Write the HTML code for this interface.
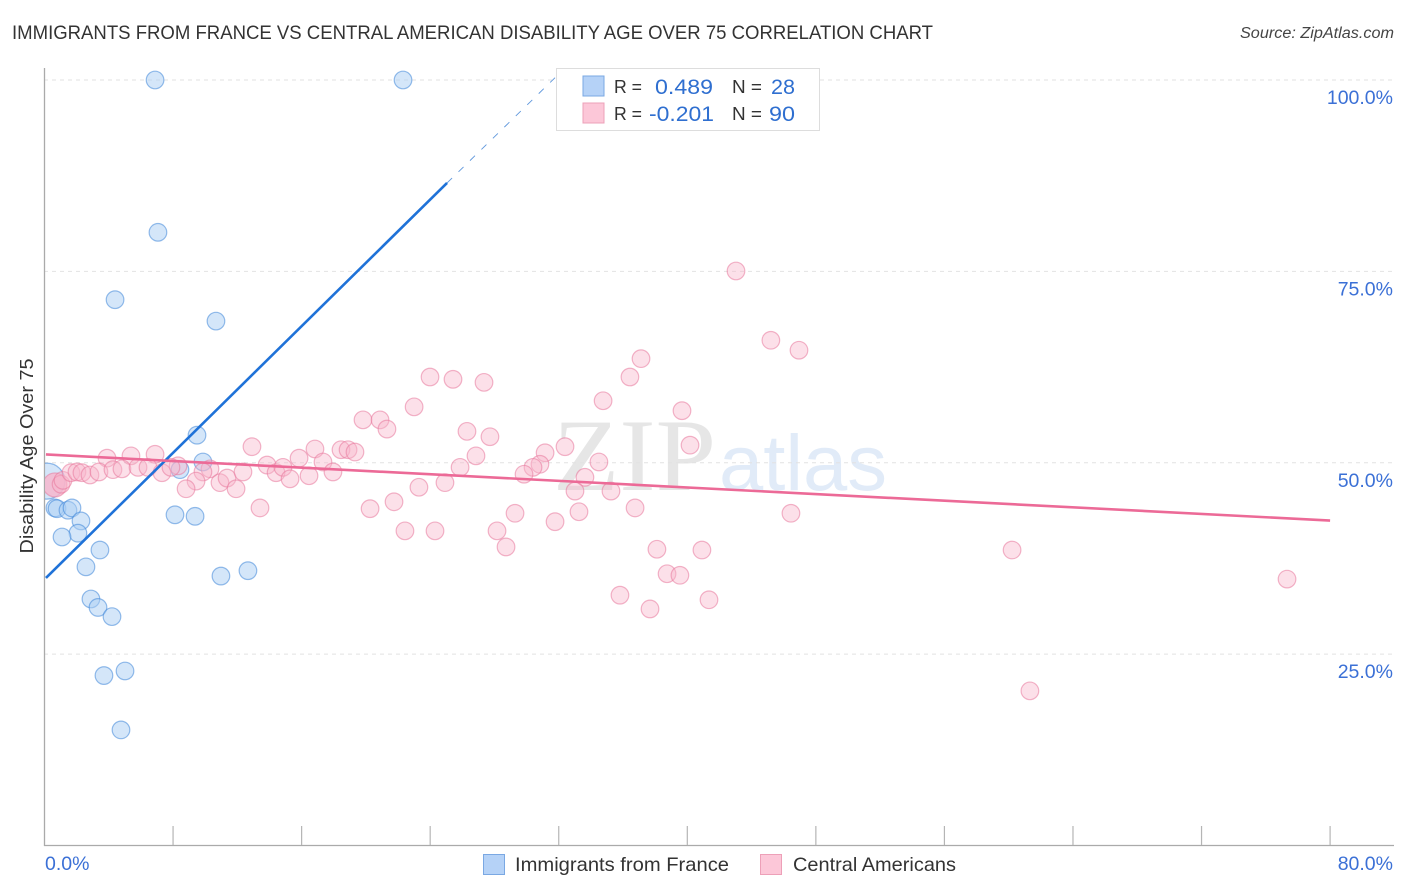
<!DOCTYPE html>
<html lang="en">
<head>
<meta charset="utf-8">
<title>Immigrants from France vs Central American Disability Age Over 75 Correlation Chart</title>
<style>
html,body{margin:0;padding:0;background:#fff;width:1406px;height:892px;overflow:hidden}
svg{display:block;font-family:"Liberation Sans",sans-serif}
</style>
</head>
<body>
<svg id="chart" xmlns="http://www.w3.org/2000/svg" width="1406" height="892" viewBox="0 0 1406 892">
  <defs>
    <clipPath id="plot-clip"><rect x="45" y="60" width="1349" height="785"/></clipPath>
  </defs>
  <rect x="0" y="0" width="1406" height="892" fill="#ffffff"/>
  <text x="12" y="39" font-size="19.5" fill="#333333" textLength="921" lengthAdjust="spacingAndGlyphs">IMMIGRANTS FROM FRANCE VS CENTRAL AMERICAN DISABILITY AGE OVER 75 CORRELATION CHART</text>
  <text x="1394" y="38" font-size="15.5" font-style="italic" fill="#444444" text-anchor="end" textLength="154" lengthAdjust="spacingAndGlyphs">Source: ZipAtlas.com</text>
  <text x="553" y="490" font-family="'Liberation Serif',serif" font-size="103" font-weight="400" fill="#e6e6e6" textLength="163" lengthAdjust="spacingAndGlyphs">ZIP</text>
  <text x="719" y="490" font-size="79" fill="#e1ebf8" textLength="168" lengthAdjust="spacingAndGlyphs">atlas</text>
  <g id="grid"></g>
  <g id="axes"></g>
  <g id="points-blue" clip-path="url(#plot-clip)"></g>
  <g id="points-pink" clip-path="url(#plot-clip)"></g>
  <g id="trends"></g>
  <text transform="translate(33,456) rotate(-90)" font-size="18.5" fill="#333333" text-anchor="middle" textLength="195" lengthAdjust="spacingAndGlyphs">Disability Age Over 75</text>

  <g>
    <rect x="556.5" y="68.5" width="263" height="62" fill="#ffffff" stroke="#dddddd" stroke-width="1"/>
    <rect x="583" y="76" width="21" height="20" fill="#b5d2f7" stroke="#7aa8e3" stroke-width="1"/>
    <rect x="583" y="103" width="21" height="20" fill="#fcc7d8" stroke="#eda0b8" stroke-width="1"/>
    <text x="614" y="93" font-size="18.5" fill="#333333" textLength="28" lengthAdjust="spacingAndGlyphs">R =</text>
    <text x="655" y="94" font-size="21.5" fill="#2f6fd0" textLength="58" lengthAdjust="spacingAndGlyphs">0.489</text>
    <text x="732" y="93" font-size="18.5" fill="#333333" textLength="30" lengthAdjust="spacingAndGlyphs">N =</text>
    <text x="771" y="94" font-size="21.5" fill="#2f6fd0" textLength="24" lengthAdjust="spacingAndGlyphs">28</text>
    <text x="614" y="120" font-size="18.5" fill="#333333" textLength="28" lengthAdjust="spacingAndGlyphs">R =</text>
    <text x="649" y="121" font-size="21.5" fill="#2f6fd0" textLength="65" lengthAdjust="spacingAndGlyphs">-0.201</text>
    <text x="732" y="120" font-size="18.5" fill="#333333" textLength="30" lengthAdjust="spacingAndGlyphs">N =</text>
    <text x="769" y="121" font-size="21.5" fill="#2f6fd0" textLength="26" lengthAdjust="spacingAndGlyphs">90</text>
  </g>

  <g>
    <rect x="483.5" y="854.5" width="21" height="20" fill="#b5d2f7" stroke="#7aa8e3" stroke-width="1"/>
    <text x="515" y="871" font-size="19.5" fill="#333333" textLength="214" lengthAdjust="spacingAndGlyphs">Immigrants from France</text>
    <rect x="760.5" y="854.5" width="21" height="20" fill="#fcc7d8" stroke="#eda0b8" stroke-width="1"/>
    <text x="793" y="871" font-size="19.5" fill="#333333" textLength="163" lengthAdjust="spacingAndGlyphs">Central Americans</text>
  </g>
</svg>
<script>
const xTickValues = [0, 8, 16, 24, 32, 40, 48, 56, 64, 72, 80];
const yGridValues = [100, 75, 50, 25];
const yTickLabels = ["100.0%", "75.0%", "50.0%", "25.0%"];
const xEndLabels = ["0.0%", "80.0%"];

const blueX = [6.88,22.31,7.06,4.39,10.67,9.49,9.86,8.43,8.12,9.37,0.65,0.78,1.46,1.71,2.27,2.08,1.09,3.45,2.58,2.89,3.33,4.2,5.01,3.7,4.76,10.98,12.66];
const blueY = [100,100,80.1,71.3,68.5,53.6,50.1,49.1,43.2,43.0,44.1,44.0,43.8,44.1,42.4,40.8,40.3,38.6,36.4,32.2,31.1,29.9,22.8,22.2,15.1,35.2,35.9];
const blueClusterX = [0.15];
const blueClusterY = [47.6];

const pinkX = [1.03,3.89,5.38,6.88,1.15,1.65,2.02,2.33,2.83,3.39,4.26,4.82,5.82,6.44,7.31,8.31,7.87,10.3,9.86,9.43,8.81,10.92,11.36,11.92,12.35,12.91,13.41,13.85,14.41,14.84,15.28,15.84,16.46,16.83,17.33,17.95,18.45,18.89,19.32,19.82,20.88,21.31,23.0,26.29,27.72,26.85,25.86,24.92,23.3,21.75,20.26,22.43,24.3,28.16,23.99,25.42,27.35,28.72,29.28,31.77,31.15,32.39,30.83,30.4,29.84,34.5,33.63,33.01,35.25,39.67,40.17,34.76,33.26,36.75,46.45,37.12,36.43,43.03,45.2,46.95,38.11,40.91,38.74,39.54,35.81,37.68,41.35,60.21,77.32,61.32];
const pinkY = [47.2,50.6,50.9,51.1,47.7,48.7,48.8,48.7,48.4,48.8,49.1,49.2,49.4,49.4,48.7,49.6,49.4,49.2,48.8,47.6,46.6,47.4,48.0,46.6,48.8,52.1,44.1,49.7,48.7,49.4,47.9,50.6,48.3,51.8,50.1,48.8,51.7,51.7,51.4,55.6,55.6,54.4,57.3,54.1,53.4,50.9,49.4,47.4,46.8,44.9,44.0,41.1,41.1,41.1,61.2,60.9,60.5,39.0,43.4,42.3,51.3,52.1,49.8,49.4,48.5,50.1,48.1,46.3,46.3,56.8,52.3,58.1,43.6,44.1,43.4,63.6,61.2,75.05,66.0,64.7,38.7,38.6,35.5,35.3,32.7,30.9,32.1,38.6,34.8,20.2];
const pinkClusterX = [0.65];
const pinkClusterY = [47.1];

const blueTrendX = [0.09, 25.05];
const blueTrendY = [34.95, 86.55];
const blueProjectionX = [25.05, 31.77];
const blueProjectionY = [86.55, 100.3];
const pinkTrendX = [0.09, 80];
const pinkTrendY = [51.08, 42.45];

const NS = "http://www.w3.org/2000/svg";
function sx(v){ return 44.5 + v * 16.07; }
function sy(v){ return 845.5 - v * 7.655; }
function make(tag, attrs, parent){
  const el = document.createElementNS(NS, tag);
  for (const k in attrs) el.setAttribute(k, attrs[k]);
  parent.appendChild(el);
  return el;
}

const gridG = document.getElementById("grid");
yGridValues.forEach(function(v, i){
  const line = make("line", {x1:44, x2:1394, y1:sy(v), y2:sy(v), stroke:"#e2e2e2", "stroke-width":1, "stroke-dasharray":"4 4"}, gridG);
  
  
  const label = make("text", {x:1393, y:sy(v)+24, "font-size":19.5, fill:"#3b70d6", "text-anchor":"end"}, gridG);
  label.textContent = yTickLabels[i];
  
  
});

const axesG = document.getElementById("axes");
const yAxis = make("line", {x1:44.5, x2:44.5, y1:68, y2:846, stroke:"#aaaaaa", "stroke-width":1.3}, axesG);


const xAxis = make("line", {x1:44, x2:1394, y1:845.5, y2:845.5, stroke:"#aaaaaa", "stroke-width":1.3}, axesG);


xTickValues.slice(1).forEach(function(v){
  const tick = make("line", {x1:sx(v), x2:sx(v), y1:826, y2:845, stroke:"#b5b5b5", "stroke-width":1.2}, axesG);
  
  
});
const xLabelStart = make("text", {x:45, y:870, "font-size":19.5, fill:"#3b70d6"}, axesG);
xLabelStart.textContent = xEndLabels[0];


const xLabelEnd = make("text", {x:1393, y:870, "font-size":19.5, fill:"#3b70d6", "text-anchor":"end"}, axesG);
xLabelEnd.textContent = xEndLabels[1];



const blueStyle = {fill:"#a9cdf3", "fill-opacity":0.5, stroke:"#3f86d8", "stroke-opacity":0.55, "stroke-width":1.2};
const pinkStyle = {fill:"#f8b4ca", "fill-opacity":0.42, stroke:"#e8799c", "stroke-opacity":0.55, "stroke-width":1.2};

const blueG = document.getElementById("points-blue");
blueClusterX.forEach(function(x, i){
  const c = make("circle", Object.assign({cx:sx(x), cy:sy(blueClusterY[i]), r:18}, blueStyle), blueG);
  
  
});
blueX.forEach(function(x, i){
  const c = make("circle", Object.assign({cx:sx(x), cy:sy(blueY[i]), r:8.8}, blueStyle), blueG);
  
  
});

const pinkG = document.getElementById("points-pink");
pinkClusterX.forEach(function(x, i){
  const c = make("circle", Object.assign({cx:sx(x), cy:sy(pinkClusterY[i]), r:12}, pinkStyle, {"fill-opacity":0.8}), pinkG);
  
  
});
pinkX.forEach(function(x, i){
  const c = make("circle", Object.assign({cx:sx(x), cy:sy(pinkY[i]), r:8.8}, pinkStyle), pinkG);
  
  
});

const trendsG = document.getElementById("trends");
const blueProjection = make("line", {x1:sx(blueProjectionX[0]), y1:sy(blueProjectionY[0]), x2:sx(blueProjectionX[1]), y2:sy(blueProjectionY[1]), stroke:"#5f97dc", "stroke-width":0.9, "stroke-dasharray":"7 9"}, trendsG);


const blueTrend = make("line", {x1:sx(blueTrendX[0]), y1:sy(blueTrendY[0]), x2:sx(blueTrendX[1]), y2:sy(blueTrendY[1]), stroke:"#1f72d8", "stroke-width":2.6}, trendsG);


const pinkTrend = make("line", {x1:sx(pinkTrendX[0]), y1:sy(pinkTrendY[0]), x2:sx(pinkTrendX[1]), y2:sy(pinkTrendY[1]), stroke:"#ec6a97", "stroke-width":2.6}, trendsG);


</script>
</body>
</html>
